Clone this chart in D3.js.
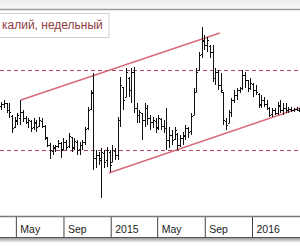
<!DOCTYPE html>
<html>
<head>
<meta charset="utf-8">
<script src="https://cdn.jsdelivr.net/npm/d3@7"></script>
<style>
  body { margin: 0; background: #fff; }
  svg { display: block; }
</style>
</head>
<body>
<div id="chart"></div>
<script>
// weekly bars, first week starting 24 Mar 2014
var firstWeek = new Date(2014, 2, 24);
var highs = [368, 370, 367, 367, 355, 353, 357, 370, 360, 354, 352, 350, 352, 350, 353, 352, 345, 333, 327, 325,
             325, 330, 328, 332, 330, 337, 333, 332, 330, 328, 330, 343, 363, 380, 397, 320, 318, 322, 320, 323,
             320, 325, 322, 353, 393, 383, 402, 393, 402, 403, 367, 360, 357, 367, 365, 355, 353, 352, 355, 352,
             350, 362, 343, 340, 343, 337, 335, 338, 345, 343, 357, 382, 402, 418, 443, 435, 433, 425, 425, 402,
             400, 397, 378, 352, 360, 372, 380, 382, 383, 400, 398, 390, 392, 387, 385, 377, 375, 373, 370, 363,
             362, 362, 368, 370, 367, 367, 363, 363, 362, 363, 362];
var lows = [360, 362, 357, 352, 337, 342, 345, 345, 348, 346, 342, 338, 340, 338, 343, 342, 330, 323, 311, 315,
            318, 322, 312, 320, 320, 322, 318, 320, 315, 315, 320, 325, 340, 360, 300, 302, 305, 272, 302, 303,
            298, 308, 310, 310, 343, 360, 373, 373, 367, 357, 347, 347, 330, 343, 345, 340, 342, 337, 340, 340,
            337, 320, 322, 325, 330, 320, 323, 325, 330, 332, 335, 355, 378, 400, 412, 420, 418, 412, 388, 385,
            380, 377, 345, 340, 347, 353, 367, 370, 377, 380, 382, 378, 380, 373, 375, 362, 362, 363, 360, 353,
            353, 355, 355, 357, 355, 357, 357, 358, 358, 359, 358];
var opens = [364, 366, 367, 360, 354, 343, 349, 352, 358, 352, 348, 349, 343, 347, 344, 349, 344, 332, 325, 319,
             322, 324, 327, 321, 328, 324, 333, 323, 328, 321, 325, 328, 342, 361, 378, 312, 315, 312, 317, 310,
             318, 308, 319, 315, 350, 383, 373, 392, 380, 398, 362, 355, 357, 350, 362, 352, 348, 349, 343, 351,
             344, 342, 330, 335, 331, 336, 325, 332, 334, 342, 339, 355, 378, 400, 416, 429, 425, 424, 418, 392,
             398, 385, 378, 349, 347, 358, 370, 375, 380, 382, 395, 390, 382, 386, 380, 376, 366, 370, 366, 362,
             356, 360, 357, 364, 360, 362, 360, 361, 360, 361, 360];
var closes = [366, 367, 360, 358, 342, 350, 355, 358, 352, 348, 350, 342, 348, 343, 350, 344, 333, 325, 320, 323,
              324, 327, 320, 328, 323, 334, 322, 329, 320, 325, 328, 341, 360, 377, 312, 315, 310, 318, 308, 320,
              305, 320, 315, 350, 385, 370, 398, 380, 398, 362, 355, 358, 350, 362, 352, 348, 350, 342, 352, 344,
              342, 330, 335, 330, 340, 325, 332, 335, 342, 338, 354, 378, 398, 415, 430, 425, 430, 418, 392, 398,
              385, 380, 350, 345, 358, 370, 375, 380, 382, 395, 390, 382, 387, 380, 378, 365, 370, 366, 362, 355,
              360, 357, 365, 360, 362, 360, 361, 360, 361, 360, 361];

// horizontal levels and trend channel (date, price)
var levels = [400, 320];
var channelTop = [[new Date(2014, 4, 14), 370], [new Date(2015, 9, 10), 437]];
var channelBottom = [[new Date(2014, 11, 27), 297], [new Date(2016, 4, 4), 362]];
var tickDates = [new Date(2014, 4, 1), new Date(2014, 8, 1), new Date(2015, 0, 1),
                 new Date(2015, 4, 1), new Date(2015, 8, 1), new Date(2016, 0, 1)];
var title = 'калий, недельный';

var width = 300, height = 250;
var plotTop = 10, plotBottom = 216, axisBottom = 237;

var svg = d3.select('#chart').append('svg')
    .attr('width', width)
    .attr('height', height);

var defs = svg.append('defs');
var topGrad = defs.append('linearGradient').attr('id', 'topGrad').attr('x1', 0).attr('y1', 0).attr('x2', 0).attr('y2', 1);
topGrad.append('stop').attr('offset', '0%').attr('stop-color', '#ececec');
topGrad.append('stop').attr('offset', '100%').attr('stop-color', '#f8f8f8');
var shadowGrad = defs.append('linearGradient').attr('id', 'shadowGrad').attr('x1', 0).attr('y1', 0).attr('x2', 0).attr('y2', 1);
shadowGrad.append('stop').attr('offset', '0%').attr('stop-color', '#9a9a9a');
shadowGrad.append('stop').attr('offset', '100%').attr('stop-color', '#ffffff');
defs.append('clipPath').attr('id', 'plotClip')
    .append('rect').attr('x', 0).attr('y', plotTop).attr('width', width).attr('height', plotBottom - plotTop);

var data = highs.map(function (h, i) {
    return {
        date: d3.timeWeek.offset(firstWeek, i),
        open: opens[i], high: h, low: lows[i], close: closes[i]
    };
});

var x = d3.scaleTime()
    .domain([new Date(2014, 2, 21), new Date(2016, 4, 4)])
    .range([0, width]);
var y = d3.scaleLinear()
    .domain([254, 460])
    .range([plotBottom, plotTop]);

// top strip
svg.append('rect').attr('x', 0).attr('y', 0).attr('width', width).attr('height', plotTop - 1)
    .attr('fill', 'url(#topGrad)');
svg.append('line').attr('x1', 0).attr('x2', width).attr('y1', plotTop - 0.5).attr('y2', plotTop - 0.5)
    .attr('stroke', '#9a9a9a').attr('stroke-width', 1.5);

var plot = svg.append('g').attr('clip-path', 'url(#plotClip)');

// dashed levels
plot.selectAll('.level')
    .data(levels)
    .enter()
    .append('line')
    .attr('class', 'level')
    .attr('x1', 0).attr('x2', width)
    .attr('y1', function (d) { return Math.round(y(d)) + 0.5; })
    .attr('y2', function (d) { return Math.round(y(d)) + 0.5; })
    .attr('stroke', '#b24a5a')
    .attr('stroke-width', 1)
    .attr('stroke-dasharray', '4,3');

// trend channel
var line = d3.line()
    .x(function (d) { return x(d[0]); })
    .y(function (d) { return y(d[1]); });
plot.selectAll('.channel')
    .data([channelTop, channelBottom])
    .enter()
    .append('path')
    .attr('class', 'channel')
    .attr('d', line)
    .attr('fill', 'none')
    .attr('stroke', '#d66a78')
    .attr('stroke-width', 1.4);

// OHLC bars
var bars = plot.selectAll('.bar')
    .data(data)
    .enter()
    .append('g')
    .attr('class', 'bar')
    .attr('stroke', '#111')
    .attr('stroke-width', 1);
bars.append('line')
    .attr('x1', function (d) { return Math.round(x(d.date)) + 0.5; })
    .attr('x2', function (d) { return Math.round(x(d.date)) + 0.5; })
    .attr('y1', function (d) { return y(d.high); })
    .attr('y2', function (d) { return y(d.low); });
bars.append('line')
    .attr('x1', function (d) { return Math.round(x(d.date)) - 1; })
    .attr('x2', function (d) { return Math.round(x(d.date)) + 0.5; })
    .attr('y1', function (d) { return Math.round(y(d.open)) + 0.5; })
    .attr('y2', function (d) { return Math.round(y(d.open)) + 0.5; });
bars.append('line')
    .attr('x1', function (d) { return Math.round(x(d.date)) + 0.5; })
    .attr('x2', function (d) { return Math.round(x(d.date)) + 2; })
    .attr('y1', function (d) { return Math.round(y(d.close)) + 0.5; })
    .attr('y2', function (d) { return Math.round(y(d.close)) + 0.5; });

// legend box
svg.append('rect')
    .attr('x', -4).attr('y', 13.5).attr('width', 113).attr('height', 24)
    .attr('fill', '#fff').attr('stroke', '#cfcfcf');
svg.append('text')
    .attr('x', 2).attr('y', 29)
    .attr('font-family', 'Liberation Sans, Arial, sans-serif')
    .attr('font-size', 12)
    .attr('fill', '#8e3b3f')
    .text(title);

// time axis band
svg.append('rect').attr('x', 0).attr('y', plotBottom).attr('width', width).attr('height', axisBottom - plotBottom)
    .attr('fill', '#fff');
svg.append('rect').attr('x', 0).attr('y', axisBottom + 1).attr('width', width).attr('height', 5)
    .attr('fill', 'url(#shadowGrad)');

var xAxis = d3.axisBottom(x)
    .tickValues(tickDates)
    .tickSize(axisBottom - plotBottom)
    .tickSizeOuter(0)
    .tickFormat(function (d) {
        return d.getMonth() === 0 ? d3.timeFormat('%Y')(d) : d3.timeFormat('%b')(d);
    });
var axisG = svg.append('g')
    .attr('transform', 'translate(0,' + plotBottom + ')')
    .call(xAxis);
axisG.select('.domain').remove();
axisG.selectAll('.tick line').attr('stroke', '#444');
axisG.selectAll('.tick text')
    .attr('text-anchor', 'start')
    .attr('x', 4)
    .attr('y', 17)
    .attr('dy', 0)
    .attr('font-family', 'Liberation Sans, Arial, sans-serif')
    .attr('font-size', 10.5)
    .attr('fill', '#222');

svg.append('line').attr('x1', 0).attr('x2', width).attr('y1', plotBottom + 0.5).attr('y2', plotBottom + 0.5)
    .attr('stroke', '#7a7a7a').attr('stroke-width', 1.5);
svg.append('line').attr('x1', 0).attr('x2', width).attr('y1', axisBottom + 0.5).attr('y2', axisBottom + 0.5)
    .attr('stroke', '#555').attr('stroke-width', 1);
</script>
</body>
</html>
